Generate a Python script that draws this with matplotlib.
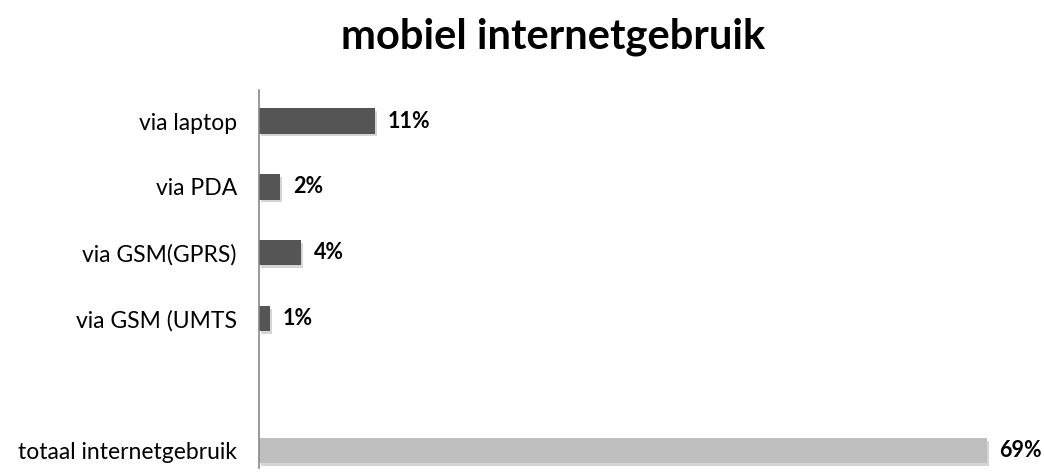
import matplotlib.pyplot as plt
import matplotlib.patheffects as pe

categories = ['via laptop', 'via PDA', 'via GSM(GPRS)', 'via GSM (UMTS', '', 'totaal internetgebruik']
values = [11, 2, 4, 1, None, 69]
colors = ['#555555', '#555555', '#555555', '#555555', None, '#bfbfbf']
title = 'mobiel internetgebruik'

plt.rcParams['font.family'] = ['Lato', 'DejaVu Sans']

fig = plt.figure(figsize=(10.44, 4.74), dpi=100)
ax = fig.add_axes([259 / 1044, 1 - 468 / 474, (1040 - 259) / 1044, (468 - 90) / 474])

shadow = [pe.SimplePatchShadow(offset=(1.5, -2), shadow_rgbFace='#777777', alpha=0.3), pe.Normal()]
for i, (v, c) in enumerate(zip(values, colors)):
    if v is None:
        continue
    bar = ax.barh(i, v, height=0.38, color=c, edgecolor='none')
    for p in bar:
        p.set_path_effects(shadow)
    ax.text(v + 1.2, i, f'{v}%', va='center', ha='left', fontsize=15.5, fontweight='bold', color='#000000')

ax.set_xlim(0, (1040 - 259) / 10.55)
ax.set_ylim(5.26, -0.47)
ax.set_yticks(range(len(categories)))
ax.set_yticklabels(categories, fontsize=16.5)
ax.tick_params(axis='y', length=0, pad=16)
ax.set_xticks([])
for s in ['top', 'right', 'bottom']:
    ax.spines[s].set_visible(False)
ax.spines['left'].set_color('#888888')
ax.spines['left'].set_linewidth(1.2)

fig.text(553 / 1044, 1 - 37 / 474, title, ha='center', va='center', fontsize=30, fontweight='bold')

fig.savefig('out.png', dpi=100)
